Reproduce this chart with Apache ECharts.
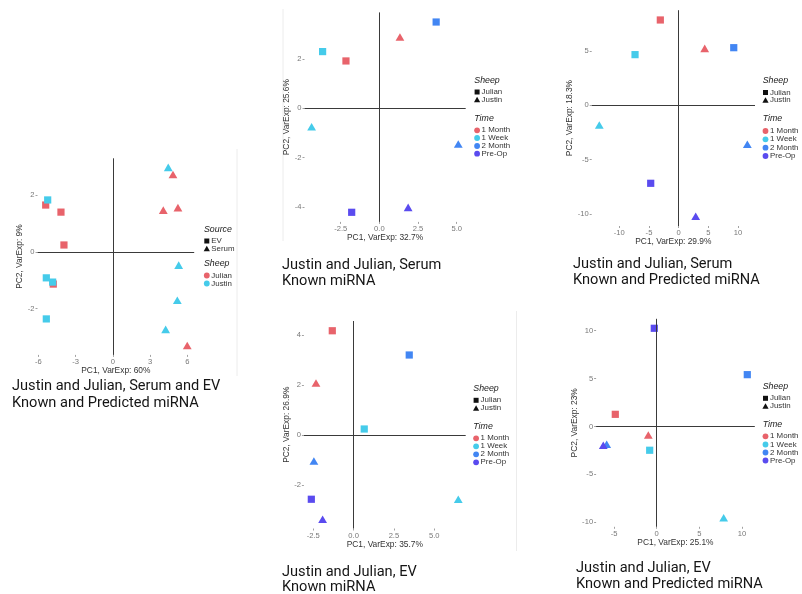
<!DOCTYPE html>
<html>
<head>
<meta charset="utf-8">
<script src="https://cdn.jsdelivr.net/npm/echarts@6/dist/echarts.min.js"></script>
<style>
  html, body { margin: 0; padding: 0; background: #ffffff; }
  #chart { width: 802px; height: 594px; }
</style>
</head>
<body>
<div id="chart"></div>
<script>
// ---- factor levels ----
const timeLevels = ['1 Month', '1 Week', '2 Month', 'Pre-Op'];
const sheepLevels = ['Julian', 'Justin'];
const sourceLevels = ['EV', 'Serum'];

// ---- Serum and EV, known and predicted miRNA ----
const bothSource = ['EV', 'EV', 'EV', 'EV', 'EV', 'EV', 'EV', 'EV',
                    'Serum', 'Serum', 'Serum', 'Serum', 'Serum', 'Serum', 'Serum', 'Serum'];
const bothSheep = ['Julian', 'Julian', 'Julian', 'Julian', 'Justin', 'Justin', 'Justin', 'Justin',
                   'Julian', 'Julian', 'Julian', 'Julian', 'Justin', 'Justin', 'Justin', 'Justin'];
const bothPC1 = [-5.41, -4.18, -3.94, -4.80, -5.25, -5.36, -4.85, -5.36,
                  4.84,  4.06,  5.24,  5.99,  4.46,  5.30,  5.19,  4.25];
const bothPC2 = [ 1.65,  1.40,  0.24, -1.14,  1.83, -0.92, -1.07, -2.37,
                  2.73,  1.47,  1.56, -3.31,  2.98, -0.47, -1.71, -2.74];

// ---- per-source samples: 2 sheep x 4 time points ----
const sampleSheep = ['Julian', 'Julian', 'Julian', 'Julian', 'Justin', 'Justin', 'Justin', 'Justin'];
const sampleTime = ['1 Month', '1 Week', '2 Month', 'Pre-Op', '1 Month', '1 Week', '2 Month', 'Pre-Op'];

const serumKnownPC1 = [-2.16, -3.67, 3.67, -1.79, 1.33, -4.38, 5.10, 1.86];
const serumKnownPC2 = [ 1.92,  2.30, 3.50, -4.22, 2.89, -0.75, -1.45, -4.02];

const serumAllPC1 = [-3.09, -7.35, 9.28, -4.71, 4.39, -13.37, 11.57, 2.87];
const serumAllPC2 = [ 7.85,  4.66, 5.30, -7.18, 5.24, -1.81, -3.59, -10.21];

const evKnownPC1 = [-1.32, 0.66, 3.45, -2.62, -2.33, 6.49, -2.46, -1.92];
const evKnownPC2 = [ 4.17, 0.24, 3.20, -2.57,  2.08, -2.57, -1.04, -3.37];

const evAllPC1 = [-4.85, -0.82, 10.62, -0.28, -0.98, 7.85, -5.86, -6.26];
const evAllPC2 = [ 1.27, -2.48,  5.41, 10.25, -0.89, -9.52, -1.86, -1.96];

// ---- tick breaks ----
const bothXTicks = [-6, -3, 0, 3, 6];
const bothYTicks = [-2, 0, 2];
const serumKnownXTicks = [-2.5, 0, 2.5, 5];
const serumKnownYTicks = [-4, -2, 0, 2];
const serumAllXTicks = [-10, -5, 0, 5, 10];
const serumAllYTicks = [-10, -5, 0, 5];
const evKnownXTicks = [-2.5, 0, 2.5, 5];
const evKnownYTicks = [-2, 0, 2, 4];
const evAllXTicks = [-5, 0, 5, 10];
const evAllYTicks = [-10, -5, 0, 5, 10];

// ---- styling ----
const palette = {
  '1 Month': '#E8636B', '1 Week': '#45CBEA', '2 Month': '#4286F3', 'Pre-Op': '#5A4BEF',
  'Julian': '#E8636B', 'Justin': '#45CBEA'
};
const SANS = '"Liberation Sans", Arial, sans-serif';
const CAPTION_FONT = 'Roboto, "Noto Sans", sans-serif';

const panels = [
  {
    pc1: bothPC1, pc2: bothPC2, shapeBy: bothSource, colorBy: bothSheep,
    shapeTitle: 'Source', shapeLevels: sourceLevels, colorTitle: 'Sheep', colorLevels: sheepLevels,
    xTicks: bothXTicks, yTicks: bothYTicks, digits: 0,
    xRange: [-6.07, 6.55], yRange: [-3.64, 3.30],
    xName: 'PC1, VarExp: 60%', yName: 'PC2, VarExp: 9%',
    grid: { left: 37.5, top: 158.3, width: 156.7, height: 196.6 }, yNameGap: 9.5,
    legend: { x: 204, y: [229.5, 241, 248.7, 264, 275.5, 283.5] },
    caption: { x: 12, y: [386, 403], lines: ['Justin and Julian, Serum and EV', 'Known and Predicted miRNA'] }
  },
  {
    pc1: serumKnownPC1, pc2: serumKnownPC2, shapeBy: sampleSheep, colorBy: sampleTime,
    shapeTitle: 'Sheep', shapeLevels: sheepLevels, colorTitle: 'Time', colorLevels: timeLevels,
    xTicks: serumKnownXTicks, yTicks: serumKnownYTicks, digits: 1,
    xRange: [-4.84, 5.58], yRange: [-4.61, 3.89],
    xName: 'PC1, VarExp: 32.7%', yName: 'PC2, VarExp: 25.6%',
    grid: { left: 304.5, top: 12.4, width: 161.2, height: 209.5 }, yNameGap: 10.5,
    legend: { x: 474.3, y: [81, 92, 99.7, 118.5, 130.3, 138, 146, 153.7] },
    caption: { x: 282, y: [265, 281], lines: ['Justin and Julian, Serum', 'Known miRNA'] }
  },
  {
    pc1: serumAllPC1, pc2: serumAllPC2, shapeBy: sampleSheep, colorBy: sampleTime,
    shapeTitle: 'Sheep', shapeLevels: sheepLevels, colorTitle: 'Time', colorLevels: timeLevels,
    xTicks: serumAllXTicks, yTicks: serumAllYTicks, digits: 0,
    xRange: [-14.65, 12.86], yRange: [-11.11, 8.75],
    xName: 'PC1, VarExp: 29.9%', yName: 'PC2, VarExp: 18.3%',
    grid: { left: 591.7, top: 10.2, width: 163.3, height: 215.8 }, yNameGap: 16.5,
    legend: { x: 762.7, y: [80.7, 92.5, 100.2, 119, 131, 139.3, 147.7, 156] },
    caption: { x: 573, y: [264.5, 280.5], lines: ['Justin and Julian, Serum', 'Known and Predicted miRNA'] }
  },
  {
    pc1: evKnownPC1, pc2: evKnownPC2, shapeBy: sampleSheep, colorBy: sampleTime,
    shapeTitle: 'Sheep', shapeLevels: sheepLevels, colorTitle: 'Time', colorLevels: timeLevels,
    xTicks: evKnownXTicks, yTicks: evKnownYTicks, digits: 1,
    xRange: [-3.08, 6.95], yRange: [-3.74, 4.56],
    xName: 'PC1, VarExp: 35.7%', yName: 'PC2, VarExp: 26.9%',
    grid: { left: 303.9, top: 321, width: 161.8, height: 207.5 }, yNameGap: 12,
    legend: { x: 473.3, y: [389, 400.3, 408.3, 427, 438.3, 446.3, 454.3, 462.3] },
    caption: { x: 282, y: [572, 587.5], lines: ['Justin and Julian, EV', 'Known miRNA'] }
  },
  {
    pc1: evAllPC1, pc2: evAllPC2, shapeBy: sampleSheep, colorBy: sampleTime,
    shapeTitle: 'Sheep', shapeLevels: sheepLevels, colorTitle: 'Time', colorLevels: timeLevels,
    xTicks: evAllXTicks, yTicks: evAllYTicks, digits: 0,
    xRange: [-7.1, 11.5], yRange: [-10.47, 11.24],
    xName: 'PC1, VarExp: 25.1%', yName: 'PC2, VarExp: 23%',
    grid: { left: 596.1, top: 318.8, width: 158.7, height: 208 }, yNameGap: 12.8,
    legend: { x: 762.7, y: [386.7, 398.3, 406.3, 425, 436.3, 444.5, 452.5, 460.5] },
    caption: { x: 576, y: [568.5, 584.5], lines: ['Justin and Julian, EV', 'Known and Predicted miRNA'] }
  }
];

// first shape level is a square, second a triangle
function shapeFor(level, levels) {
  return levels.indexOf(level) === 0 ? 'rect' : 'triangle';
}

const grids = [], xAxes = [], yAxes = [], series = [], graphics = [];

panels.forEach((p, i) => {
  grids.push(Object.assign({ containLabel: false }, p.grid));

  const tickStyle = { show: true, length: 2, inside: false, lineStyle: { color: '#8a8a8a', width: 0.8 } };
  const labelStyle = { fontSize: 7.6, color: '#777777', fontFamily: SANS, margin: 3 };
  const nameStyle = { fontSize: 8.4, color: '#333333', fontFamily: SANS };

  xAxes.push({
    gridIndex: i, type: 'value', min: p.xRange[0], max: p.xRange[1], position: 'bottom',
    axisLine: { show: false, onZero: false }, splitLine: { show: false },
    axisTick: Object.assign({ customValues: p.xTicks }, tickStyle),
    axisLabel: Object.assign({ customValues: p.xTicks, formatter: v => Number(v).toFixed(p.digits) }, labelStyle),
    name: p.xName, nameLocation: 'middle', nameGap: 10, nameTextStyle: nameStyle
  });
  yAxes.push({
    gridIndex: i, type: 'value', min: p.yRange[0], max: p.yRange[1], position: 'left',
    axisLine: { show: false, onZero: false }, splitLine: { show: false },
    axisTick: Object.assign({ customValues: p.yTicks }, tickStyle),
    axisLabel: Object.assign({ customValues: p.yTicks, formatter: v => String(Math.round(v)) }, labelStyle),
    name: p.yName, nameLocation: 'middle', nameGap: p.yNameGap, nameTextStyle: nameStyle
  });

  // reference lines through the origin
  series.push({
    type: 'scatter', xAxisIndex: i, yAxisIndex: i, data: [], z: 1, silent: true,
    markLine: {
      silent: true, symbol: ['none', 'none'], label: { show: false },
      lineStyle: { color: '#3a3a3a', width: 1, type: 'solid' },
      emphasis: { disabled: true },
      data: [{ xAxis: 0 }, { yAxis: 0 }]
    }
  });

  series.push({
    type: 'scatter', xAxisIndex: i, yAxisIndex: i, z: 3,
    data: p.pc1.map((x, k) => {
      const shape = shapeFor(p.shapeBy[k], p.shapeLevels);
      return {
        value: [x, p.pc2[k]],
        symbol: shape,
        symbolSize: shape === 'rect' ? [7.2, 7.2] : [8.8, 7.6],
        itemStyle: { color: palette[p.colorBy[k]], opacity: 1 }
      };
    })
  });

  // legend: shape block then colour block
  const L = p.legend;
  const symX = L.x + 2.8, txtX = L.x + 7.3;
  let r = 0;
  const titleText = (text, y) => ({
    type: 'text', x: L.x, y: y,
    style: { text: text, fill: '#222222', font: 'italic 8.8px ' + SANS, verticalAlign: 'middle' }
  });
  const itemText = (text, y) => ({
    type: 'text', x: txtX, y: y,
    style: { text: text, fill: '#333333', font: '7.9px ' + SANS, verticalAlign: 'middle' }
  });
  graphics.push(titleText(p.shapeTitle, L.y[r++]));
  p.shapeLevels.forEach((lev, k) => {
    const y = L.y[r++];
    if (k === 0) {
      graphics.push({ type: 'rect', shape: { x: symX - 2.5, y: y - 2.5, width: 5, height: 5 }, style: { fill: '#111111' } });
    } else {
      graphics.push({ type: 'polygon', shape: { points: [[symX, y - 3], [symX + 3.1, y + 2.5], [symX - 3.1, y + 2.5]] }, style: { fill: '#111111' } });
    }
    graphics.push(itemText(lev, y));
  });
  graphics.push(titleText(p.colorTitle, L.y[r++]));
  p.colorLevels.forEach(lev => {
    const y = L.y[r++];
    graphics.push({ type: 'circle', shape: { cx: symX, cy: y, r: 2.9 }, style: { fill: palette[lev] } });
    graphics.push(itemText(lev, y));
  });

  // caption under each plot
  p.caption.lines.forEach((line, k) => {
    graphics.push({
      type: 'text', x: p.caption.x, y: p.caption.y[k],
      style: { text: line, fill: '#151515', font: '14.6px ' + CAPTION_FONT, verticalAlign: 'middle' }
    });
  });
});

// faint edges of the plot tiles
[[237, 149, 237, 376], [283, 9, 283, 241], [516.5, 311, 516.5, 551]].forEach(s => {
  graphics.push({
    type: 'line', shape: { x1: s[0], y1: s[1], x2: s[2], y2: s[3] },
    style: { stroke: '#ececec', lineWidth: 1 }, z: -1
  });
});

const chart = echarts.init(document.getElementById('chart'), null, { renderer: 'canvas' });
chart.setOption({
  animation: false,
  backgroundColor: '#ffffff',
  grid: grids,
  xAxis: xAxes,
  yAxis: yAxes,
  series: series,
  graphic: { elements: graphics }
});
</script>
</body>
</html>
